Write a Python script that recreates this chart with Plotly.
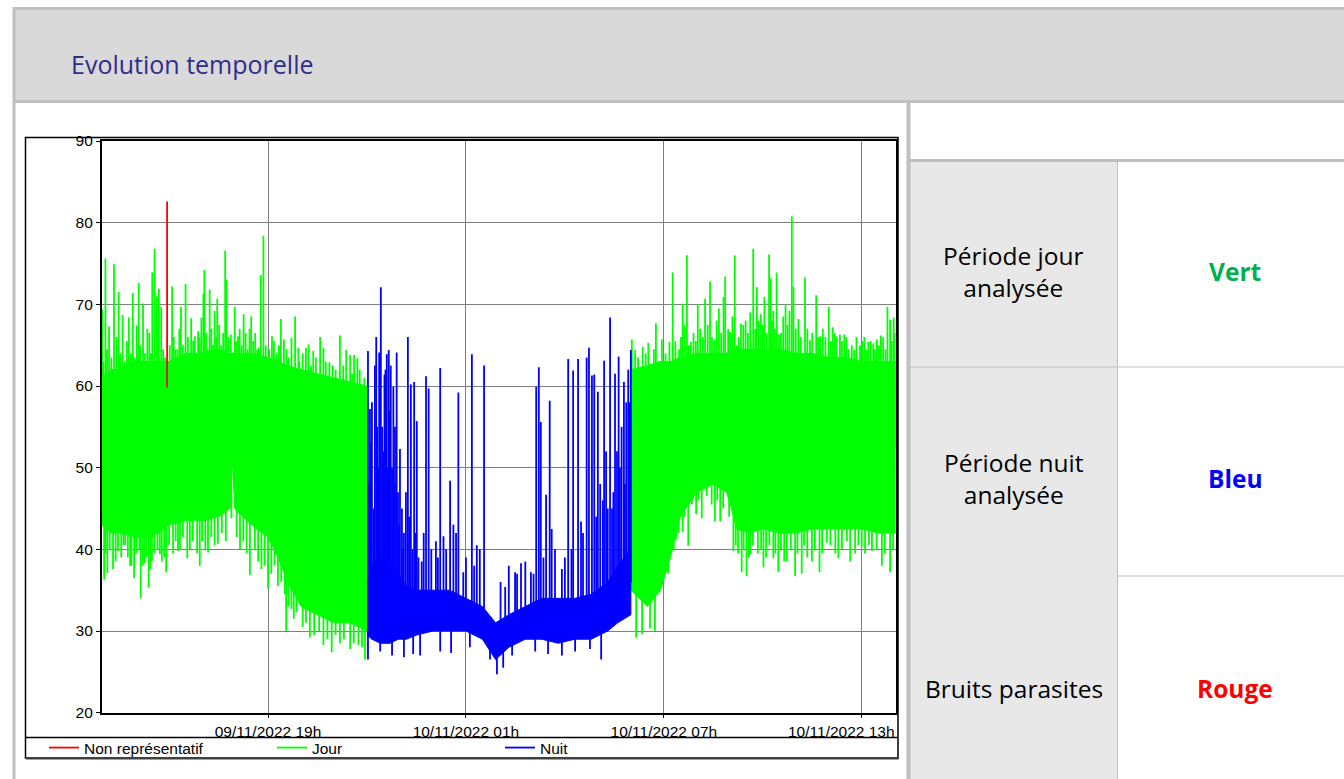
import numpy as np
import pandas as pd
import plotly.graph_objects as go

W, H = 1344, 779
BASE = pd.Timestamp("2022-11-09 00:00")

# ---------------- DATA (hours counted from 09/11/2022 00:00, values in dB) ----------------
x_range_h = [13.957, 38.03]
tick_h = [19, 25, 31, 37]
tick_labels = ["09/11/2022 19h", "10/11/2022 01h", "10/11/2022 07h", "10/11/2022 13h"]
y_ticks = [20, 30, 40, 50, 60, 70, 80, 90]

# Jour (09/11 afternoon / evening): dense core envelope
jour1_core_h = [13.95, 14.25, 14.5, 14.95, 15.5, 16.0, 16.5, 17.0, 17.5, 17.85, 17.92, 17.99, 18.5, 19.0, 19.3, 19.6, 20.0, 20.5, 21.0, 21.5, 22.0]
jour1_core_hi = [61, 62, 62, 63, 63, 63, 64, 64, 64.5, 64, 64, 64, 64, 63.5, 63, 62.5, 62, 61.5, 61, 60.5, 60]
jour1_core_lo = [43, 42, 42, 41.5, 41.5, 43, 43.5, 43.5, 44, 45, 51, 45, 43, 41.5, 39, 36, 33, 32, 31, 31, 30]
jour1_peak_h = [13.97, 14.07, 14.18, 14.33, 14.47, 14.59, 14.78, 14.90, 15.02, 15.08,
                15.21, 15.34, 15.49, 15.56, 15.63, 15.69, 15.76, 16.09, 16.19, 16.36,
                16.50, 16.67, 16.78, 16.88, 16.98, 17.04, 17.07, 17.23, 17.38, 17.46,
                17.70, 17.74, 17.87, 17.99, 18.09, 18.26, 18.49, 18.72, 18.78, 18.86,
                19.12, 19.39, 19.48, 19.71, 19.82, 19.92, 20.15, 20.23, 20.37, 20.58,
                20.68, 20.86, 20.96, 21.18, 21.37, 21.49, 21.61, 21.71, 21.84]
jour1_peak_v = [69.4, 75.6, 67.3, 74.9, 71.5, 68.7, 68.4, 71.4, 67.4, 72.6,
                70.1, 67.0, 73.9, 76.8, 71.0, 71.9, 69.7, 72.2, 64.4, 69.7,
                72.5, 68.3, 66.1, 66.7, 68.4, 71.3, 74.2, 71.8, 69.2, 70.7,
                76.6, 73.0, 66.3, 69.7, 66.1, 68.8, 68.5, 64.7, 73.6, 78.4,
                66.1, 68.2, 65.7, 65.9, 68.5, 64.7, 64.7, 65.1, 64.3, 66.0,
                64.7, 62.9, 62.5, 66.2, 64.4, 63.8, 63.8, 63.4, 59.9]
jour1_fringe_h = [14.01, 14.12, 14.25, 14.40, 14.52, 14.65, 14.72, 14.84, 14.96, 15.12,
                  15.27, 15.40, 15.45, 15.82, 15.88, 16.02, 16.14, 16.25, 16.31, 16.42,
                  16.57, 16.62, 16.73, 16.93, 17.12, 17.17, 17.28, 17.33, 17.43, 17.52,
                  17.58, 17.64, 17.80, 17.93, 18.04, 18.14, 18.20, 18.32, 18.38, 18.44,
                  18.55, 18.61, 18.67, 18.93, 19.04, 19.18, 19.26, 19.33, 19.56, 19.62,
                  19.95, 20.05, 20.30, 20.45, 20.75, 21.05, 21.28, 21.55, 21.78, 21.92]
jour1_fringe_v = [63.0, 64.5, 63.5, 66.0, 64.0, 63.0, 65.5, 64.0, 63.5, 65.0,
                  64.0, 66.5, 64.0, 64.5, 63.5, 65.0, 66.0, 64.5, 67.0, 65.0,
                  66.0, 64.0, 65.5, 66.0, 66.5, 64.5, 67.0, 65.0, 66.0, 67.5,
                  65.0, 66.5, 66.0, 64.0, 65.5, 67.0, 65.0, 66.5, 64.5, 67.0,
                  65.5, 66.5, 64.5, 65.0, 64.5, 65.5, 64.0, 65.0, 64.5, 63.5,
                  63.0, 64.0, 62.5, 63.5, 63.0, 62.0, 62.5, 61.5, 62.0, 61.0]
jour1_lowfringe_h = [14.08, 14.20, 14.38, 14.55, 14.62, 14.75, 14.82, 15.00, 15.10, 15.20,
                     15.32, 15.43, 15.55, 15.65, 15.78, 15.85, 16.00, 16.12, 16.20, 16.33,
                     16.42, 16.63, 16.72, 16.85, 17.00, 17.10, 17.28, 17.38, 17.60, 17.72,
                     18.05, 18.15, 18.25, 18.35, 18.60, 18.70, 18.90, 19.10, 19.30, 19.40,
                     19.62, 19.78, 20.05, 20.15, 20.40, 20.55, 20.80, 21.05, 21.30, 21.60, 21.85]
jour1_lowfringe_v = [39.5, 40.0, 38.5, 39.0, 40.5, 39.0, 38.0, 39.5, 40.0, 38.0,
                     39.0, 37.5, 39.5, 40.0, 38.5, 39.0, 40.5, 39.5, 41.0, 40.0,
                     41.5, 40.0, 41.0, 39.5, 41.0, 40.0, 41.5, 40.5, 42.0, 41.0,
                     41.5, 40.0, 41.0, 39.5, 40.0, 38.5, 38.0, 37.0, 35.5, 36.0,
                     33.0, 31.5, 30.5, 31.0, 29.5, 30.0, 29.0, 29.5, 29.0, 28.5, 28.0]
jour1_dip_h = [14.03, 14.13, 14.30, 14.45, 14.67, 14.86, 14.94, 15.14, 15.26, 15.38,
               15.48, 15.72, 15.91, 16.27, 16.55, 16.93, 17.18, 17.48, 17.89, 18.45,
               18.80, 19.00, 19.20, 19.51, 19.55, 19.71, 19.86, 20.27, 20.68, 20.93,
               21.18, 21.49, 21.74, 21.94]
jour1_dip_v = [36.3, 37.1, 37.6, 39.8, 40.5, 38.0, 36.5, 34.0, 38.3, 35.3,
               38.5, 39.4, 37.2, 39.8, 38.9, 38.0, 39.6, 40.7, 43.8, 36.9,
               37.6, 35.2, 38.0, 34.5, 30.0, 32.7, 32.3, 29.2, 28.3, 27.4,
               28.5, 27.8, 28.3, 26.5]

# Nuit (22h - 06h)
nuit_core_h = [22.0, 22.15, 22.4, 22.7, 22.95, 23.2, 23.5, 24.0, 24.5, 25.0, 25.5, 25.9, 26.3, 26.8, 27.3, 27.8, 28.3, 28.8, 29.3, 29.6, 30.0]
nuit_core_hi = [36, 38, 39, 38.5, 37, 35.5, 35, 35, 35, 34, 33, 31, 32, 33, 34, 34, 34, 34.5, 36, 38, 40]
nuit_core_lo = [29.5, 29, 28.5, 28.5, 29, 29, 29.5, 30, 30, 30, 29, 26.5, 28, 29, 29, 28.5, 29, 29, 30, 31, 32]
nuit_peak_h = [22.03, 22.09, 22.15, 22.24, 22.28, 22.34, 22.37, 22.42,
               22.46, 22.53, 22.56, 22.60, 22.66, 22.68, 22.72, 22.76,
               22.80, 22.85, 22.90, 22.94, 23.00, 23.06, 23.12, 23.24,
               23.33, 23.43, 23.51, 23.66, 23.79, 23.87, 24.09, 24.22,
               24.32, 24.52, 24.62, 24.77, 24.92, 25.18, 25.33, 25.55,
               26.19, 26.49, 26.67, 26.97, 27.13, 27.21, 27.27, 27.43,
               27.54, 27.60, 27.91, 28.10, 28.25, 28.40, 28.49, 28.66,
               28.73, 28.82, 28.89, 29.00, 29.07, 29.19, 29.25, 29.37,
               29.43, 29.52, 29.63, 29.67, 29.79, 29.86, 29.92, 30.00]
nuit_peak_v = [64.3, 57.2, 58.0, 62.5, 66.0, 50.0, 64.1, 72.1,
               55.0, 61.4, 62.0, 63.9, 64.4, 57.0, 62.5, 50.0,
               59.9, 55.0, 64.1, 47.0, 52.3, 45.0, 42.0, 66.0,
               60.2, 60.5, 55.7, 38.5, 61.2, 59.7, 41.0, 62.2,
               41.6, 48.4, 43.0, 59.2, 37.2, 63.9, 40.5, 62.5,
               35.4, 37.2, 38.3, 37.2, 59.9, 62.3, 55.6, 46.7,
               58.2, 42.5, 37.6, 63.3, 61.9, 63.3, 43.4, 63.5,
               64.7, 61.3, 61.4, 59.3, 48.0, 63.1, 52.0, 68.4,
               45.0, 61.5, 63.6, 50.0, 60.5, 58.0, 62.0, 64.4]
nuit_fringe_h = [22.06, 22.12, 22.20, 22.31, 22.49, 22.63, 22.70, 22.83, 22.97, 23.09,
                 23.18, 23.28, 23.38, 23.47, 23.56, 23.72, 23.95, 24.15, 24.40, 24.70,
                 25.00, 25.25, 25.42, 26.05, 26.30, 26.55, 26.80, 27.05, 27.35, 27.70,
                 28.00, 28.20, 28.55, 28.95, 29.15, 29.30, 29.47, 29.58, 29.72, 29.82, 29.95]
nuit_fringe_v = [48.0, 53.0, 45.0, 55.0, 52.0, 50.0, 45.0, 48.0, 43.0, 40.0,
                 47.0, 44.0, 40.0, 42.0, 39.0, 42.0, 40.0, 39.0, 40.0, 42.0,
                 39.0, 38.0, 40.0, 36.0, 38.0, 37.0, 38.5, 37.0, 39.0, 40.0,
                 39.0, 40.0, 42.0, 44.0, 46.0, 45.0, 47.0, 52.0, 55.0, 48.0, 58.0]
nuit_dip_h = [22.03, 22.40, 22.76, 23.12, 23.40, 23.61, 24.22, 24.55, 25.12, 25.73,
              25.94, 26.13, 26.40, 27.10, 27.49, 27.91, 28.31, 28.76, 29.10]
nuit_dip_v = [26.5, 27.5, 27.0, 26.8, 27.2, 27.0, 27.5, 27.3, 28.0, 26.5,
              24.7, 25.5, 27.0, 27.5, 27.2, 27.0, 27.5, 27.8, 26.5]

# Jour (10/11 morning / midday)
jour2_core_h = [30.0, 30.5, 30.9, 31.2, 31.5, 32.0, 32.5, 32.9, 33.05, 33.2, 33.6, 34.0, 34.5, 35.0, 35.5, 36.0, 36.5, 37.0, 37.5, 38.05]
jour2_core_hi = [62, 62.5, 63, 63, 63.5, 64, 64, 64, 64.5, 64.5, 64.5, 64.5, 64.5, 64, 64, 63.5, 63.5, 63, 63, 63]
jour2_core_lo = [35, 33, 35, 39, 44, 47, 48, 47, 45, 42.5, 42, 42.5, 42, 42, 42.5, 42.5, 42.5, 42.5, 42, 42]
jour2_peak_h = [30.03, 30.13, 30.36, 30.53, 30.76, 30.94, 31.17, 31.27, 31.46, 31.57,
                31.70, 31.82, 32.03, 32.25, 32.40, 32.53, 32.67, 32.81, 32.86, 33.01,
                33.15, 33.21, 33.34, 33.48, 33.71, 33.82, 33.94, 34.05, 34.19, 34.24,
                34.32, 34.42, 34.49, 34.69, 34.81, 34.88, 34.93, 35.08, 35.28, 35.43,
                35.62, 35.74, 36.00, 36.12, 36.24, 36.34, 36.47, 36.60, 36.77, 36.95,
                37.08, 37.20, 37.35, 37.46, 37.58, 37.78, 37.86, 37.97]
jour2_peak_v = [65.7, 64.4, 64.8, 65.3, 67.7, 65.7, 65.4, 73.9, 64.5, 70.1,
                76.0, 65.4, 70.0, 70.7, 72.8, 65.7, 69.5, 70.9, 73.4, 66.6,
                76.0, 65.0, 67.6, 68.0, 76.8, 72.1, 68.8, 70.9, 76.1, 73.2,
                69.2, 73.9, 66.3, 69.9, 69.2, 80.8, 72.2, 68.2, 73.3, 65.6,
                71.1, 66.1, 69.7, 67.2, 66.1, 66.3, 66.3, 64.5, 64.4, 65.0,
                66.0, 65.4, 65.2, 65.7, 66.2, 69.7, 68.1, 68.4]
jour2_fringe_h = [30.08, 30.22, 30.30, 30.45, 30.62, 30.70, 30.85, 31.05, 31.35, 31.52,
                  31.63, 31.76, 31.90, 31.97, 32.10, 32.18, 32.33, 32.46, 32.60, 32.74,
                  32.95, 33.08, 33.27, 33.41, 33.55, 33.62, 33.77, 33.88, 34.00, 34.12,
                  34.28, 34.37, 34.55, 34.62, 34.75, 35.00, 35.15, 35.35, 35.50, 35.68,
                  35.82, 35.90, 36.06, 36.18, 36.40, 36.53, 36.70, 36.84, 37.02, 37.14,
                  37.27, 37.40, 37.52, 37.65, 37.72, 37.91, 38.01]
jour2_fringe_v = [62.0, 63.5, 61.5, 64.0, 62.5, 64.5, 63.0, 64.0, 65.5, 66.0,
                  67.5, 65.0, 66.5, 65.5, 67.0, 66.0, 67.5, 66.0, 68.0, 66.5,
                  67.0, 68.5, 66.0, 67.5, 66.5, 69.0, 67.0, 68.0, 67.5, 66.5,
                  68.0, 67.0, 66.5, 68.5, 67.5, 67.0, 66.0, 67.0, 66.5, 66.0,
                  67.0, 66.0, 65.5, 66.5, 65.5, 66.0, 65.0, 66.0, 65.5, 64.5,
                  65.5, 64.5, 65.0, 66.0, 64.5, 65.5, 66.5]
jour2_lowfringe_h = [31.30, 31.45, 31.62, 31.85, 32.05, 32.30, 32.45, 32.62, 32.80, 32.98,
                     33.18, 33.25, 33.42, 33.58, 33.70, 33.85, 33.95, 34.10, 34.20, 34.38,
                     34.55, 34.65, 34.85, 35.05, 35.25, 35.35, 35.58, 35.80, 36.05, 36.20,
                     36.40, 36.55, 36.80, 36.90, 37.10, 37.22, 37.45, 37.70, 37.95]
jour2_lowfringe_v = [40.0, 42.0, 44.0, 45.5, 46.0, 46.5, 45.5, 46.0, 45.0, 44.0,
                     40.5, 39.5, 40.0, 39.0, 40.5, 39.5, 40.0, 39.0, 40.5, 39.5,
                     40.0, 38.5, 40.0, 39.5, 40.5, 39.0, 40.0, 39.5, 40.5, 39.5,
                     40.0, 41.0, 39.5, 40.5, 39.5, 40.5, 40.0, 39.5, 40.0]
jour2_dip_h = [30.16, 30.34, 30.58, 30.73, 30.95, 31.13, 31.37, 31.57, 31.74, 31.98,
               32.15, 32.55, 32.71, 33.11, 33.36, 33.51, 33.62, 34.02, 34.32, 34.47,
               34.73, 34.98, 35.18, 35.49, 35.72, 35.94, 36.29, 36.65, 37.00, 37.31,
               37.61, 37.86]
jour2_dip_v = [29.2, 29.6, 30.3, 30.0, 36.7, 37.0, 41.2, 42.1, 40.4, 44.3,
               43.8, 43.4, 43.4, 39.8, 37.2, 36.7, 39.4, 37.8, 38.9, 37.2,
               38.5, 36.7, 37.0, 38.5, 37.2, 40.8, 38.9, 38.5, 40.3, 39.8,
               38.0, 37.2]

# Non représentatif (bruit parasite)
rouge_h = [15.94, 15.94]
rouge_v = [59.8, 82.6]

GREEN, BLUE, RED = "#00FF00", "#0000FF", "#FF0000"
AXFONT = "Liberation Sans, Arial, sans-serif"
UIFONT = "Open Sans, sans-serif"


def to_dt(hours):
    return [BASE + pd.Timedelta(hours=float(h)) for h in hours]


def band(core_h, hi, lo, color):
    xs = to_dt(list(core_h) + list(core_h)[::-1])
    ys = list(hi) + list(lo)[::-1]
    return go.Scatter(x=xs, y=ys, mode="lines", fill="toself", fillcolor=color,
                      line=dict(color=color, width=1), hoverinfo="skip", showlegend=False)


def spikes(core_h, hi, lo, hs, vs):
    mid = np.interp(hs, core_h, (np.array(hi) + np.array(lo)) / 2.0)
    xs, ys = [], []
    for t, v, m in zip(to_dt(hs), vs, mid):
        xs += [t, t, None]
        ys += [m, v, None]
    return xs, ys


fig = go.Figure()

periods = [
    ("Jour", GREEN, jour1_core_h, jour1_core_hi, jour1_core_lo,
     [(jour1_peak_h, jour1_peak_v), (jour1_fringe_h, jour1_fringe_v),
      (jour1_lowfringe_h, jour1_lowfringe_v), (jour1_dip_h, jour1_dip_v)], True, 2),
    ("Jour", GREEN, jour2_core_h, jour2_core_hi, jour2_core_lo,
     [(jour2_peak_h, jour2_peak_v), (jour2_fringe_h, jour2_fringe_v),
      (jour2_lowfringe_h, jour2_lowfringe_v), (jour2_dip_h, jour2_dip_v)], False, 2),
    ("Nuit", BLUE, nuit_core_h, nuit_core_hi, nuit_core_lo,
     [(nuit_peak_h, nuit_peak_v), (nuit_fringe_h, nuit_fringe_v), (nuit_dip_h, nuit_dip_v)], True, 3),
]
for name, col, ch, hi, lo, sets, leg, rank in periods:
    fig.add_trace(band(ch, hi, lo, col))
    xs, ys = [], []
    for hs, vs in sets:
        a, b = spikes(ch, hi, lo, hs, vs)
        xs += a
        ys += b
    fig.add_trace(go.Scatter(x=xs, y=ys, mode="lines", name=name,
                             line=dict(color=col, width=1.8), showlegend=leg,
                             legendrank=rank, legendgroup=name, hoverinfo="skip"))

fig.add_trace(go.Scatter(x=to_dt(rouge_h), y=rouge_v, mode="lines", name="Non représentatif",
                         line=dict(color=RED, width=1.8), legendrank=1, hoverinfo="skip"))


def px(x):
    return x / W


def py(y):
    return 1 - y / H


shapes = []
GRAYB = "#C0C0C0"
shapes.append(dict(type="rect", xref="paper", yref="paper", x0=px(14), x1=px(1350), y0=py(8.5), y1=py(101.5),
                   fillcolor="#D9D9D9", line=dict(color=GRAYB, width=3), layer="below"))
shapes.append(dict(type="line", xref="paper", yref="paper", x0=px(14), x1=px(14), y0=py(101), y1=py(790),
                   line=dict(color=GRAYB, width=3)))
shapes.append(dict(type="rect", xref="paper", yref="paper", x0=px(910), x1=px(1117), y0=py(161), y1=py(790),
                   fillcolor="#E8E8E8", line=dict(width=0), layer="below"))
shapes.append(dict(type="line", xref="paper", yref="paper", x0=px(908.5), x1=px(908.5), y0=py(102), y1=py(790),
                   line=dict(color=GRAYB, width=4)))
shapes.append(dict(type="line", xref="paper", yref="paper", x0=px(910), x1=px(1350), y0=py(160.5), y1=py(160.5),
                   line=dict(color=GRAYB, width=3)))
shapes.append(dict(type="line", xref="paper", yref="paper", x0=px(1117.5), x1=px(1117.5), y0=py(162), y1=py(790),
                   line=dict(color=GRAYB, width=1)))
shapes.append(dict(type="line", xref="paper", yref="paper", x0=px(910), x1=px(1350), y0=py(367), y1=py(367),
                   line=dict(color=GRAYB, width=1)))
shapes.append(dict(type="line", xref="paper", yref="paper", x0=px(1117.5), x1=px(1350), y0=py(576), y1=py(576),
                   line=dict(color=GRAYB, width=1)))
shapes.append(dict(type="rect", xref="paper", yref="paper", x0=px(25.5), x1=px(898), y0=py(137.5), y1=py(758),
                   line=dict(color="black", width=1.5), fillcolor="rgba(0,0,0,0)"))
shapes.append(dict(type="line", xref="paper", yref="paper", x0=px(25.5), x1=px(898), y0=py(737.5), y1=py(737.5),
                   line=dict(color="black", width=1.5)))
shapes.append(dict(type="line", xref="paper", yref="paper", x0=px(26), x1=px(898.5), y0=py(758.5), y1=py(758.5),
                   line=dict(color="#404040", width=2)))

ann = []
ann.append(dict(text="Evolution temporelle", x=px(69), y=py(64), xref="paper", yref="paper",
                xanchor="left", yanchor="middle", showarrow=False,
                font=dict(family=UIFONT, size=25, color="#2F2D8C")))
left_cells = [("Période jour<br>analysée", 271), ("Période nuit<br>analysée", 479), ("Bruits parasites", 688)]
for txt, yc in left_cells:
    ann.append(dict(text=txt, x=px(1013.5), y=py(yc), xref="paper", yref="paper", xanchor="center",
                    yanchor="middle", showarrow=False, align="center",
                    font=dict(family=UIFONT, size=24.5, color="black")))
right_cells = [("<b>Vert</b>", 271, "#00B050"), ("<b>Bleu</b>", 479, "#0000FF"), ("<b>Rouge</b>", 688, "#FF0000")]
for txt, yc, col in right_cells:
    ann.append(dict(text=txt, x=px(1235), y=py(yc), xref="paper", yref="paper", xanchor="center",
                    yanchor="middle", showarrow=False,
                    font=dict(family=UIFONT, size=24.5, color=col)))
# last x tick label is pushed inside the frame (right aligned), as in the original
ann.append(dict(text=tick_labels[-1], x=px(896.5), y=py(731), xref="paper", yref="paper",
                xanchor="right", yanchor="middle", showarrow=False,
                font=dict(family=AXFONT, size=15.5, color="black")))
shown_tick_text = tick_labels[:-1] + [""]

fig.update_layout(
    width=W, height=H, margin=dict(l=0, r=0, t=0, b=0, autoexpand=False),
    paper_bgcolor="white", plot_bgcolor="white",
    shapes=shapes, annotations=ann,
    showlegend=True,
    legend=dict(orientation="h", x=px(44), y=py(748), xanchor="left", yanchor="middle",
                entrywidth=183, entrywidthmode="pixels", bgcolor="rgba(0,0,0,0)",
                font=dict(family=AXFONT, size=15.5, color="black"), traceorder="normal",
                itemclick=False, itemdoubleclick=False),
    xaxis=dict(domain=[px(101.7), px(895.7)], type="date", range=to_dt(x_range_h),
               tickvals=to_dt(tick_h), ticktext=shown_tick_text, showgrid=True, gridcolor="#808080", gridwidth=1,
               showline=True, linecolor="black", linewidth=1.5, mirror=True, ticks="outside", ticklen=4,
               tickcolor="black", tickfont=dict(family=AXFONT, size=15.5, color="black"), zeroline=False),
    yaxis=dict(domain=[py(712.7), py(141)], range=[20, 90], tickvals=y_ticks,
               showgrid=True, gridcolor="#808080", gridwidth=1,
               showline=True, linecolor="black", linewidth=1.5, mirror=True, ticks="outside", ticklen=4,
               tickcolor="black", tickfont=dict(family=AXFONT, size=15.5, color="black"), zeroline=False),
)

fig.write_html("out.html", config={"displayModeBar": False},
               post_script="document.body.style.margin='0';document.body.style.overflow='hidden';")
